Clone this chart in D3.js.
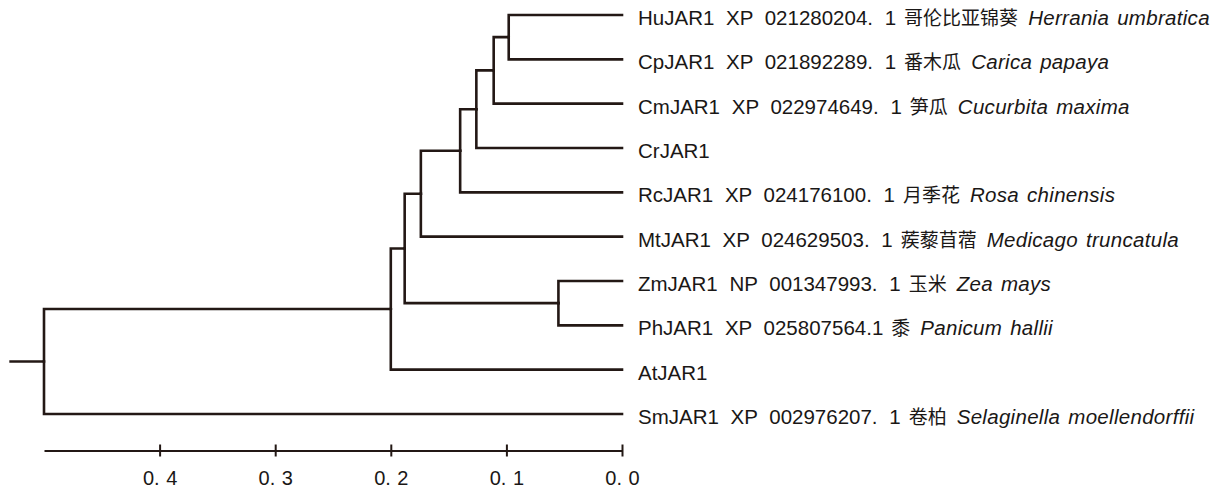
<!DOCTYPE html>
<html>
<head>
<meta charset="utf-8">
<script src="https://cdn.jsdelivr.net/npm/d3@7"></script>
<style>
  html, body { margin: 0; padding: 0; background: #fff; }
  .tip { font-family: "Liberation Sans", Arial, sans-serif; font-size: 20.5px; fill: #1a1716; word-spacing: 6px; }
  .cn { font-family: "Noto Sans CJK SC", sans-serif; font-size: 19px; }
  .sp { font-style: italic; word-spacing: 2px; letter-spacing: 0.3px; }
  .axis text { font-family: "Liberation Sans", Arial, sans-serif; font-size: 20px; fill: #1a1716; word-spacing: 1px; }
</style>
</head>
<body>
<svg id="tree" width="1228" height="489"></svg>
<script>
// leaves, top to bottom
var leafIds   = ["HuJAR1", "CpJAR1", "CmJAR1", "CrJAR1", "RcJAR1", "MtJAR1", "ZmJAR1", "PhJAR1", "AtJAR1", "SmJAR1"];
var accession = ["XP 021280204. 1", "XP 021892289. 1", "XP 022974649. 1", "", "XP 024176100. 1",
                 "XP 024629503. 1", "NP 001347993. 1", "XP 025807564.1", "", "XP 002976207. 1"];
var chinese   = ["哥伦比亚锦葵", "番木瓜", "笋瓜", "", "月季花", "蒺藜苜蓿", "玉米", "黍", "", "卷柏"];
var species   = ["Herrania umbratica", "Carica papaya", "Cucurbita maxima", "", "Rosa chinensis",
                 "Medicago truncatula", "Zea mays", "Panicum hallii", "", "Selaginella moellendorffii"];

// internal nodes: children + distance from the tips
var nodeIds      = ["n1", "n2", "n3", "n4", "n5", "n6", "n7", "n8", "root"];
var nodeChildren = [["HuJAR1", "CpJAR1"], ["n1", "CmJAR1"], ["n2", "CrJAR1"], ["n3", "RcJAR1"],
                    ["n4", "MtJAR1"], ["ZmJAR1", "PhJAR1"], ["n5", "n6"], ["n7", "AtJAR1"], ["n8", "SmJAR1"]];
var nodeHeights  = [0.098, 0.111, 0.126, 0.140, 0.174, 0.055, 0.188, 0.200, 0.500];
var rootStub = 0.03;

// scale bar
var tickValues = [0.4, 0.3, 0.2, 0.1, 0.0];
var scaleDomain = [0.5, 0.0];

var svg = d3.select("#tree");
var ink = "#231815";

var x = d3.scaleLinear().domain(scaleDomain).range([44, 622]);
var y = d3.scalePoint().domain(leafIds).range([15, 414]);

// build the table for stratify
var rows = [];
nodeIds.forEach(function(id, i) {
  rows.push({ id: id, height: nodeHeights[i] });
});
var parentOf = {};
nodeChildren.forEach(function(ch, i) {
  ch.forEach(function(c) { parentOf[c] = nodeIds[i]; });
});
rows.forEach(function(r) { r.parent = parentOf[r.id] || null; });
leafIds.forEach(function(id, i) {
  rows.push({ id: id, parent: parentOf[id], height: 0, idx: i });
});

var root = d3.stratify().id(function(d) { return d.id; }).parentId(function(d) { return d.parent; })(rows);

// keep child order as listed
root.each(function(n) {
  if (n.children) {
    var order = nodeChildren[nodeIds.indexOf(n.id)];
    n.children.sort(function(a, b) { return order.indexOf(a.id) - order.indexOf(b.id); });
  }
});

root.eachAfter(function(n) {
  n.px = x(n.data.height);
  if (!n.children) n.py = y(n.id);
  else n.py = (n.children[0].py + n.children[n.children.length - 1].py) / 2;
});

var g = svg.append("g")
  .attr("fill", "none")
  .attr("stroke", ink)
  .attr("stroke-width", 2.6)
  .attr("stroke-linecap", "square");

// root stub
g.append("line")
  .attr("x1", x(nodeHeights[nodeIds.indexOf("root")] + rootStub))
  .attr("x2", root.px)
  .attr("y1", root.py).attr("y2", root.py)
  .attr("stroke-linecap", "butt");

// elbow branches
g.selectAll("path.branch")
  .data(root.links())
  .enter().append("path")
  .attr("class", "branch")
  .attr("d", function(l) {
    return "M" + l.source.px + "," + l.source.py + "V" + l.target.py + "H" + l.target.px;
  });

// tip labels
var leaves = root.leaves();
var lab = svg.selectAll("text.tip")
  .data(leaves)
  .enter().append("text")
  .attr("class", "tip")
  .attr("x", function(d) { return d.px + 16; })
  .attr("y", function(d) { return d.py + 10; });

lab.append("tspan").text(function(d) {
  var i = d.data.idx;
  return leafIds[i] + (accession[i] ? " " + accession[i] : "");
});
lab.filter(function(d) { return chinese[d.data.idx]; })
  .append("tspan").attr("class", "cn").attr("dx", 8)
  .text(function(d) { return chinese[d.data.idx]; });
lab.filter(function(d) { return species[d.data.idx]; })
  .append("tspan").attr("class", "sp").attr("dx", 10)
  .text(function(d) { return species[d.data.idx]; });

// scale axis
var ax = svg.append("g")
  .attr("class", "axis")
  .attr("transform", "translate(0,450.5)")
  .call(d3.axisBottom(x).tickValues(tickValues).tickSizeOuter(0)
    .tickFormat(function(d) { return d.toFixed(1).replace(".", ". "); }));

ax.select(".domain").attr("stroke", ink).attr("stroke-width", 2);
ax.selectAll(".tick line").attr("y1", -6).attr("y2", 6).attr("stroke", ink).attr("stroke-width", 2);
ax.selectAll(".tick text").attr("y", 34.5).attr("dy", 0);
</script>
</body>
</html>
